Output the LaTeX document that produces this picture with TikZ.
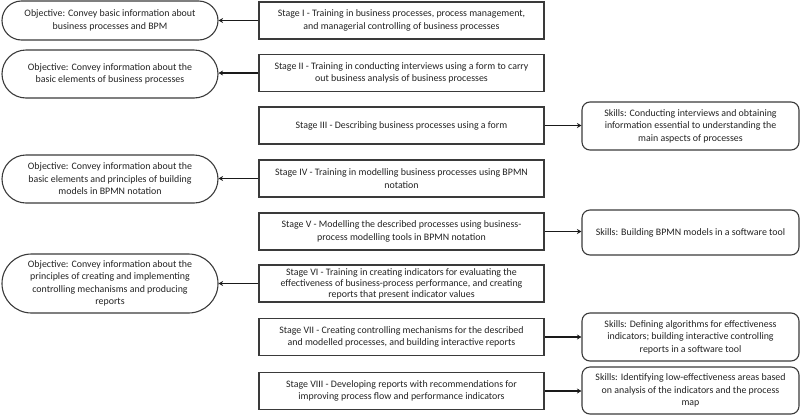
\documentclass[tikz,border=0pt]{standalone}
\usepackage{fontspec}
\setmainfont{Carlito}
\usetikzlibrary{arrows.meta}
\definecolor{bordc}{HTML}{3A3A3A}
\definecolor{txtc}{HTML}{222222}
\definecolor{arrc}{HTML}{1A1A1A}
\tikzset{
  base/.style={draw=bordc, line width=1.1pt, align=center, inner sep=0pt, text=txtc,
    font=\fontsize{9.9pt}{12.5pt}\selectfont},
  objbox/.style={base, minimum width=216pt},
  stagebox/.style={base, minimum width=285pt, minimum height=37pt},
  tightbox/.style={font=\fontsize{9.9pt}{11pt}\selectfont},
  skillbox/.style={base, minimum width=217pt, rounded corners=8pt},
  conn/.style={draw=arrc, line width=1.8pt, -{Stealth[length=4.5pt,width=5pt]}}
}
\begin{document}
\begin{tikzpicture}[x=1pt,y=-1pt]
\useasboundingbox (0,0) rectangle (800,418);
% objectives
\node[objbox, minimum height=39pt, rounded corners=19.5pt] (o1) at (110,20.5) {Objective: Convey basic information about\\business processes and BPM};
\node[objbox, minimum height=48pt, rounded corners=24pt] (o2) at (110,74) {Objective: Convey information about the\\basic elements of business processes};
\node[objbox, minimum height=48pt, rounded corners=24pt] (o4) at (110,179) {Objective: Convey information about the\\basic elements and principles of building\\models in BPMN notation};
\node[objbox, minimum height=59pt, rounded corners=29.5pt] (o6) at (110,283.5) {Objective: Convey information about the\\principles of creating and implementing\\controlling mechanisms and producing\\reports};
% stages
\node[stagebox] (s1) at (401.5,20.5) {Stage I - Training in business processes, process management,\\and managerial controlling of business processes};
\node[stagebox] (s2) at (401.5,73) {Stage II - Training in conducting interviews using a form to carry\\out business analysis of business processes};
\node[stagebox] (s3) at (401.5,125.5) {Stage III - Describing business processes using a form};
\node[stagebox] (s4) at (401.5,178.5) {Stage IV - Training in modelling business processes using BPMN\\notation};
\node[stagebox] (s5) at (401.5,231.5) {Stage V - Modelling the described processes using business-\\process modelling tools in BPMN notation};
\node[stagebox, tightbox] (s6) at (401.5,283.5) {Stage VI - Training in creating indicators for evaluating the\\effectiveness of business-process performance, and creating\\reports that present indicator values};
\node[stagebox] (s7) at (401.5,337) {Stage VII - Creating controlling mechanisms for the described\\and modelled processes, and building interactive reports};
\node[stagebox] (s8) at (401.5,391) {Stage VIII - Developing reports with recommendations for\\improving process flow and performance indicators};
% skills
\node[skillbox, minimum height=48pt] (k3) at (690.5,126) {Skills: Conducting interviews and obtaining\\information essential to understanding the\\main aspects of processes};
\node[skillbox, minimum height=45pt] (k5) at (690.5,232.5) {Skills: Building BPMN models in a software tool};
\node[skillbox, minimum height=48pt] (k7) at (690.5,337) {Skills: Defining algorithms for effectiveness\\indicators; building interactive controlling\\reports in a software tool};
\node[skillbox, minimum height=47pt] (k8) at (690.5,390.5) {Skills: Identifying low-effectiveness areas based\\on analysis of the indicators and the process\\map};
% connectors
\draw[conn] (s1.west) -- (s1.west -| o1.east);
\draw[conn] (s2.west) -- (s2.west -| o2.east);
\draw[conn] (s4.west) -- (s4.west -| o4.east);
\draw[conn] (s6.west) -- (s6.west -| o6.east);
\draw[conn] (s3.east) -- (s3.east -| k3.west);
\draw[conn] (s5.east) -- (s5.east -| k5.west);
\draw[conn] (s7.east) -- (s7.east -| k7.west);
\draw[conn] (s8.east) -- (s8.east -| k8.west);
\end{tikzpicture}
\end{document}
